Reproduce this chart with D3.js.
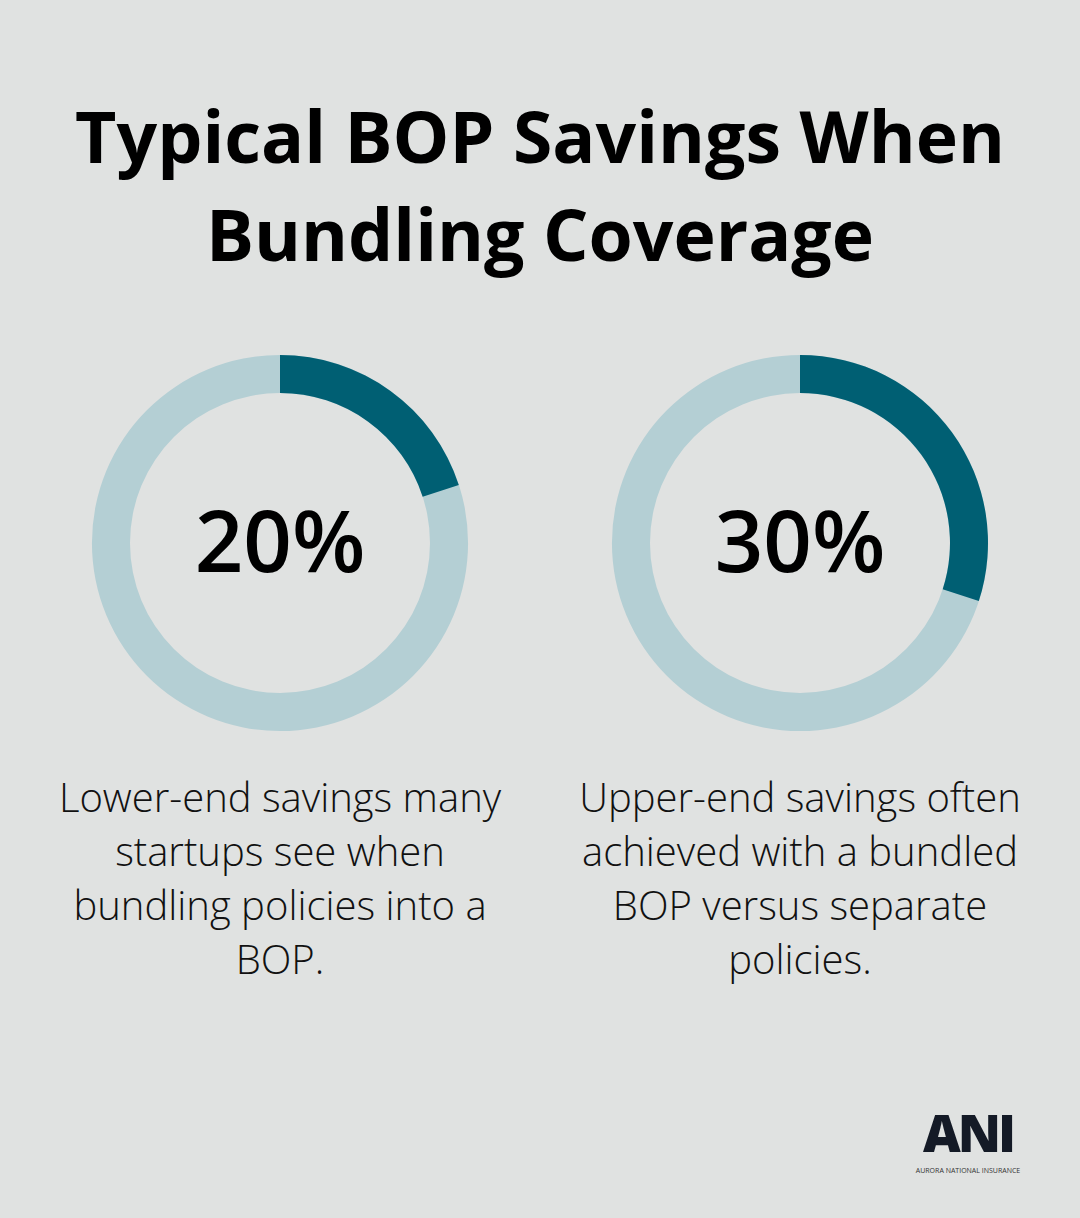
<!DOCTYPE html><html><head><meta charset="utf-8">
<script src="https://cdn.jsdelivr.net/npm/d3@7"></script>
<style>body{margin:0;background:#e0e2e1}</style></head><body>
<script>
const titleLines=["Typical BOP Savings When","Bundling Coverage"];
const values=[20,30];
const labels=["20%","30%"];
const descriptions=[["Lower-end savings many","startups see when","bundling policies into a","BOP."],["Upper-end savings often","achieved with a bundled","BOP versus separate","policies."]];
const W=1080,H=1218;
const svg=d3.select("body").append("svg").attr("width",W).attr("height",H);
svg.append("rect").attr("width",W).attr("height",H).attr("fill","#e0e2e1");
svg.selectAll("text.t").data(titleLines).join("text").attr("x",540).attr("y",(d,i)=>163+i*98)
 .attr("text-anchor","middle").attr("font-family","Open Sans").attr("font-weight",700).attr("font-size",71.5).attr("fill","#000").text(d=>d);
const x=d3.scaleBand().domain(d3.range(values.length)).range([20,1060]);
const arc=d3.arc().innerRadius(150).outerRadius(188);
const pct=d3.scaleLinear().domain([0,100]).range([0,2*Math.PI]);
values.forEach((v,i)=>{
 const cx=x(i)+x.bandwidth()/2;
 const g=svg.append("g").attr("transform",`translate(${cx},543)`);
 g.append("path").attr("d",arc({startAngle:0,endAngle:2*Math.PI})).attr("fill","#b4cfd4");
 g.append("path").attr("d",arc({startAngle:0,endAngle:pct(v)})).attr("fill","#005f73");
 g.append("text").attr("y",29).attr("text-anchor","middle").attr("font-family","Open Sans").attr("font-weight",600).attr("font-size",85).attr("fill","#000").text(labels[i]);
 svg.selectAll(null).data(descriptions[i]).join("text").attr("x",cx).attr("y",(d,j)=>812+j*54).attr("text-anchor","middle")
  .attr("font-family","Open Sans").attr("font-weight",300).attr("font-size",40).attr("fill","#111").text(d=>d);
});
const logo=svg.append("g");
logo.append("text").attr("x",968).attr("y",1152).attr("text-anchor","middle").attr("font-family","Open Sans").attr("font-weight",800).attr("font-size",52).attr("letter-spacing",-3).attr("fill","#141a26").text("ANI");
logo.append("text").attr("x",968).attr("y",1173).attr("text-anchor","middle").attr("font-family","Open Sans").attr("font-size",7).attr("fill","#333").text("AURORA NATIONAL INSURANCE");
</script></body></html>
